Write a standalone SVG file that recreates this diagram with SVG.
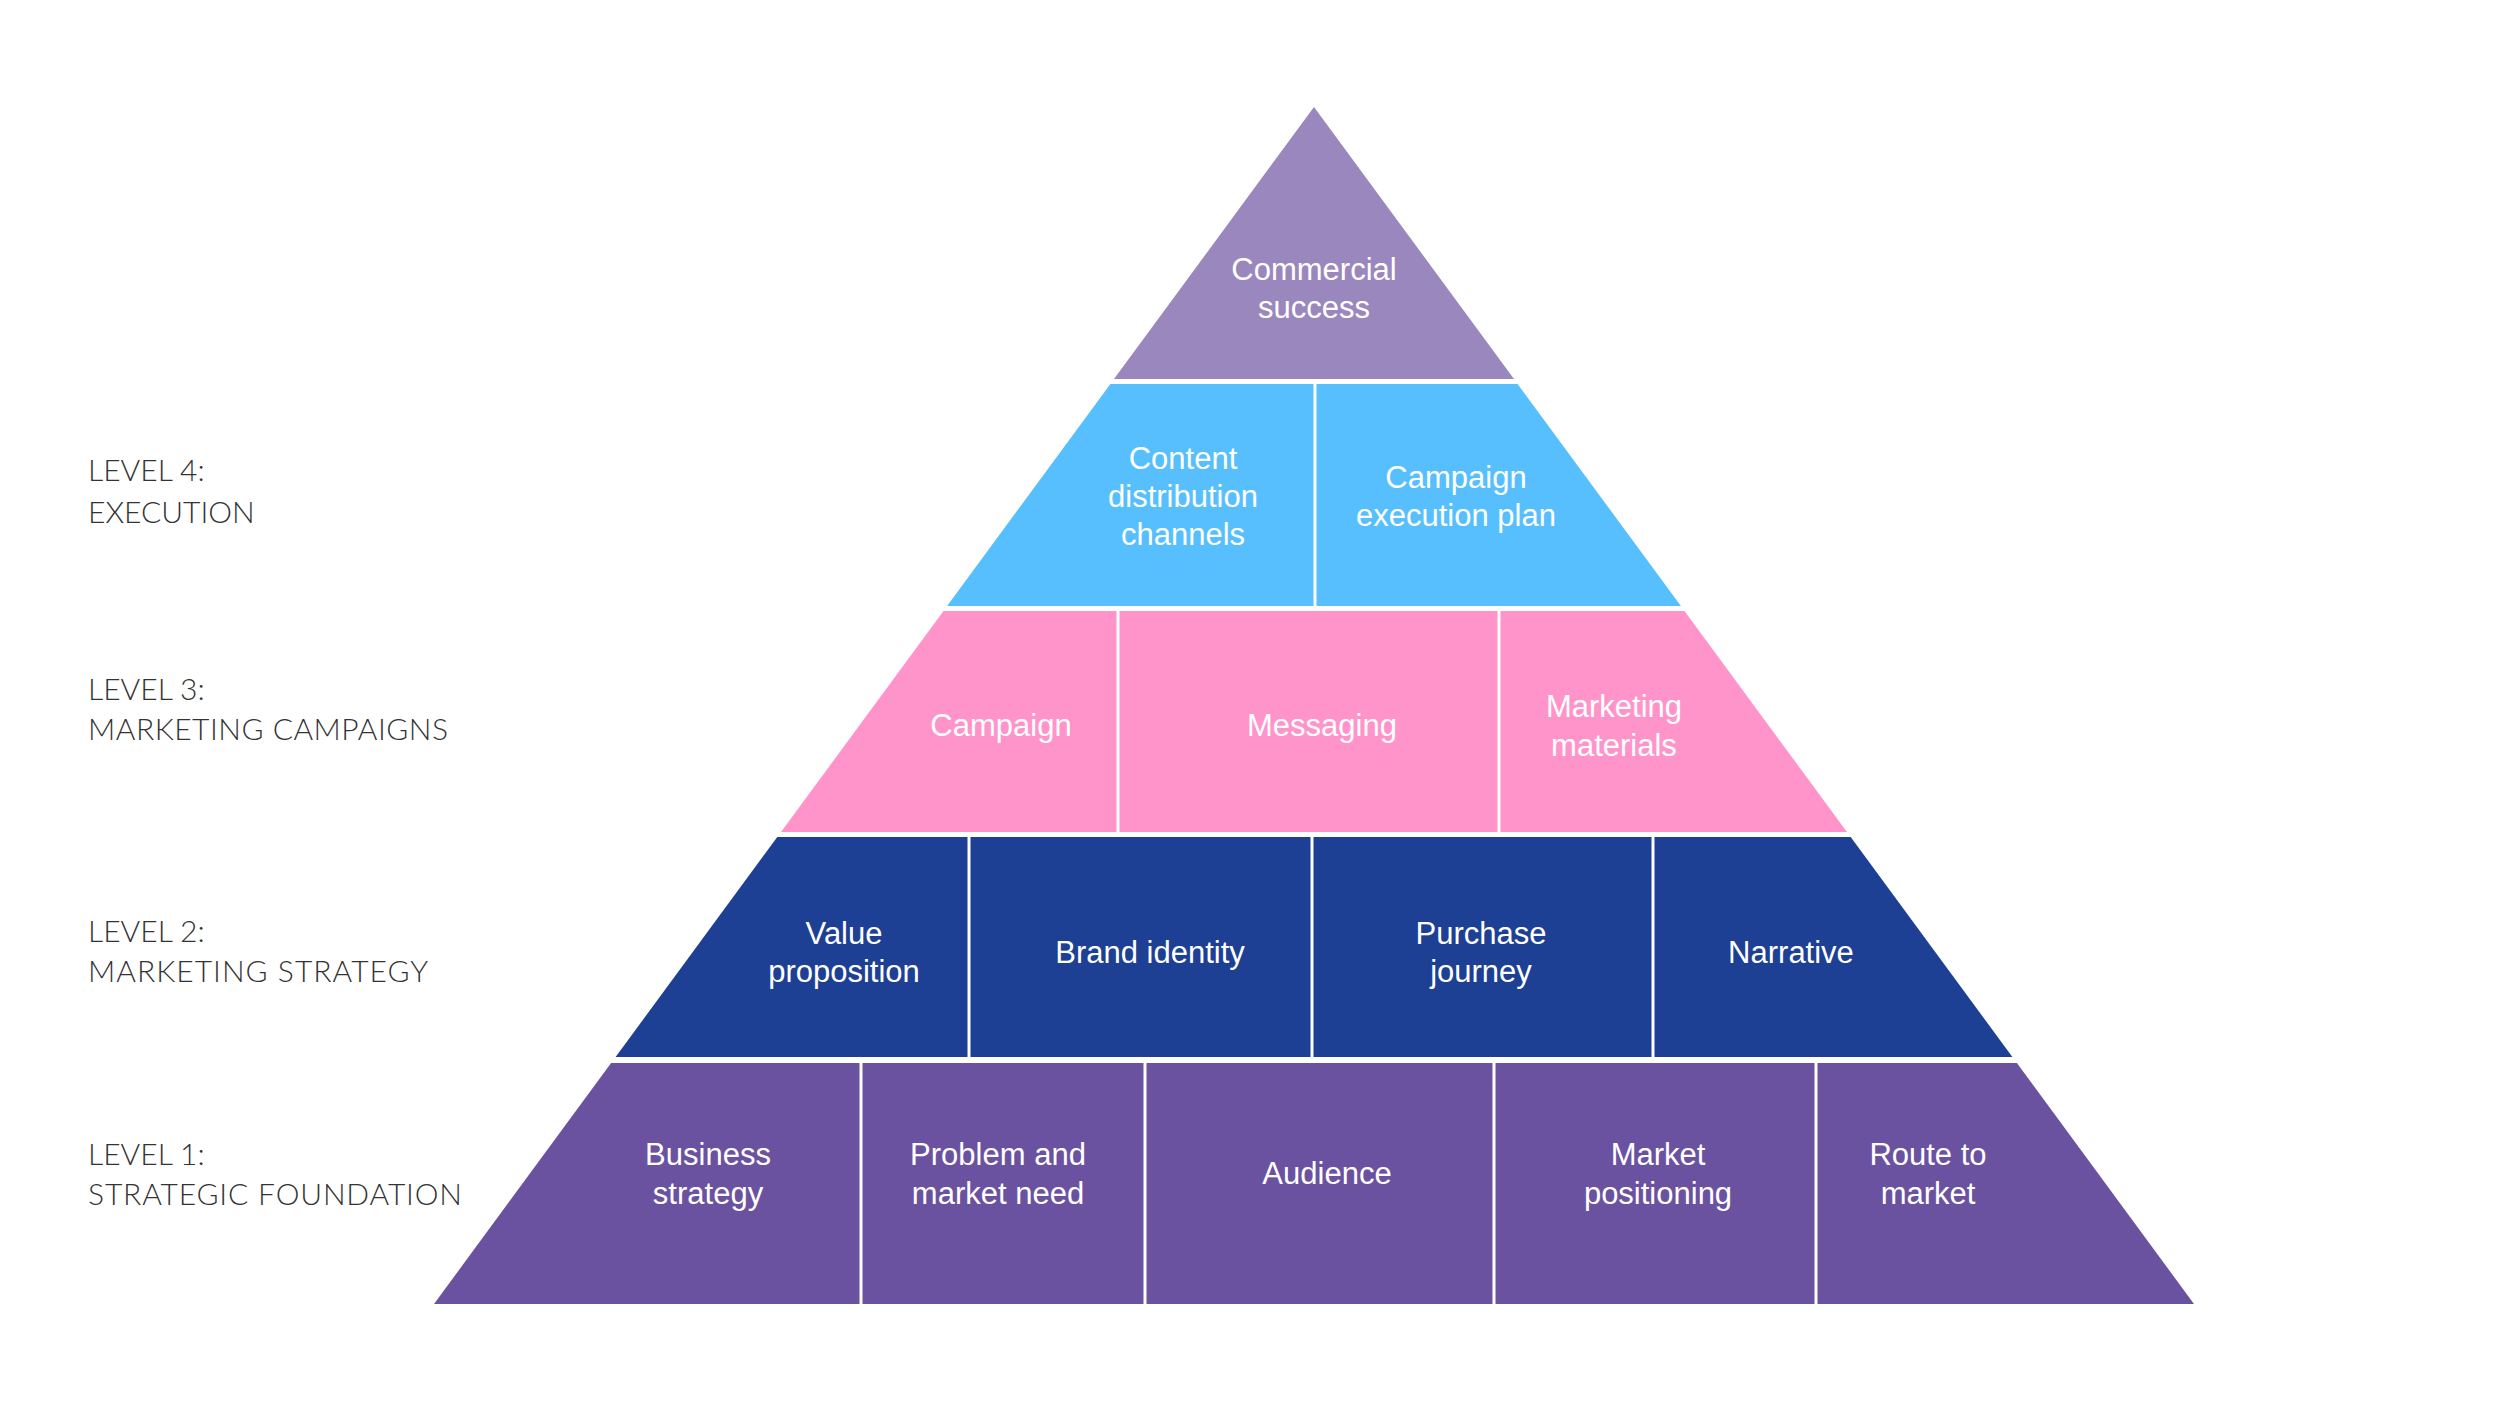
<svg xmlns="http://www.w3.org/2000/svg" width="2500" height="1406" viewBox="0 0 2500 1406">
<style>
.t{font-family:"Liberation Sans",Arial,sans-serif;font-size:31px;fill:#ffffff;text-anchor:middle}
.lv{font-family:Lato,"Open Sans",sans-serif;font-weight:300;font-size:30px;fill:#333333}
.c0{fill:#9A87BE}.c4{fill:#57BFFE}.c3{fill:#FF94CA}.c2{fill:#1D3F94}.c1{fill:#6A52A0}
</style>
<defs>
<clipPath id="b4"><polygon points="1110.4,384 1517.6,384 1680.9,606 947.1,606"/></clipPath>
<clipPath id="b3"><polygon points="943.5,611 1684.5,611 1847,832 781,832"/></clipPath>
<clipPath id="b2"><polygon points="777.3,837 1850.7,837 2012.4,1057 615.6,1057"/></clipPath>
<clipPath id="b1"><polygon points="611.1,1063 2016.9,1063 2194,1304 434,1304"/></clipPath>
</defs>
<rect width="2500" height="1406" fill="#ffffff"/>
<g id="labels">
<text class="lv" x="88" y="481">LEVEL 4:</text>
<text class="lv" x="88" y="523">EXECUTION</text>
<text class="lv" x="88" y="700">LEVEL 3:</text>
<text class="lv" x="88" y="740" textLength="360" lengthAdjust="spacing">MARKETING CAMPAIGNS</text>
<text class="lv" x="88" y="942">LEVEL 2:</text>
<text class="lv" x="88" y="982" textLength="340" lengthAdjust="spacing">MARKETING STRATEGY</text>
<text class="lv" x="88" y="1165">LEVEL 1:</text>
<text class="lv" x="88" y="1205" textLength="374" lengthAdjust="spacing">STRATEGIC FOUNDATION</text>
</g>
<g id="commercial-success">
<polygon class="c0" points="1314,107 1514,379 1114,379"/>
<text class="t" x="1314" y="280">Commercial</text>
<text class="t" x="1314" y="318">success</text>
</g>
<g id="content-distribution">
<rect class="c4" clip-path="url(#b4)" x="900" y="384" width="413.5" height="222"/>
<text class="t" x="1183" y="469">Content</text>
<text class="t" x="1183" y="507">distribution</text>
<text class="t" x="1183" y="545">channels</text>
</g>
<g id="campaign-execution-plan">
<rect class="c4" clip-path="url(#b4)" x="1316.5" y="384" width="400" height="222"/>
<text class="t" x="1456" y="488">Campaign</text>
<text class="t" x="1456" y="526">execution plan</text>
</g>
<g id="campaign">
<rect class="c3" clip-path="url(#b3)" x="750" y="611" width="366.5" height="221"/>
<text class="t" x="1001" y="736">Campaign</text>
</g>
<g id="messaging">
<rect class="c3" clip-path="url(#b3)" x="1119.5" y="611" width="378" height="221"/>
<text class="t" x="1322" y="736">Messaging</text>
</g>
<g id="marketing-materials">
<rect class="c3" clip-path="url(#b3)" x="1500.5" y="611" width="400" height="221"/>
<text class="t" x="1614" y="717">Marketing</text>
<text class="t" x="1614" y="756">materials</text>
</g>
<g id="value-proposition">
<rect class="c2" clip-path="url(#b2)" x="600" y="837" width="367.5" height="220"/>
<text class="t" x="844" y="944">Value</text>
<text class="t" x="844" y="982">proposition</text>
</g>
<g id="brand-identity">
<rect class="c2" clip-path="url(#b2)" x="970.5" y="837" width="340" height="220"/>
<text class="t" x="1150" y="963">Brand identity</text>
</g>
<g id="purchase-journey">
<rect class="c2" clip-path="url(#b2)" x="1313.5" y="837" width="338" height="220"/>
<text class="t" x="1481" y="944">Purchase</text>
<text class="t" x="1481" y="982">journey</text>
</g>
<g id="narrative">
<rect class="c2" clip-path="url(#b2)" x="1654.5" y="837" width="400" height="220"/>
<text class="t" x="1791" y="963">Narrative</text>
</g>
<g id="business-strategy">
<rect class="c1" clip-path="url(#b1)" x="420" y="1063" width="439.5" height="241"/>
<text class="t" x="708" y="1165">Business</text>
<text class="t" x="708" y="1204">strategy</text>
</g>
<g id="problem-market-need">
<rect class="c1" clip-path="url(#b1)" x="862.5" y="1063" width="281" height="241"/>
<text class="t" x="998" y="1165">Problem and</text>
<text class="t" x="998" y="1204">market need</text>
</g>
<g id="audience">
<rect class="c1" clip-path="url(#b1)" x="1146.5" y="1063" width="346" height="241"/>
<text class="t" x="1327" y="1184">Audience</text>
</g>
<g id="market-positioning">
<rect class="c1" clip-path="url(#b1)" x="1495.5" y="1063" width="319" height="241"/>
<text class="t" x="1658" y="1165">Market</text>
<text class="t" x="1658" y="1204">positioning</text>
</g>
<g id="route-to-market">
<rect class="c1" clip-path="url(#b1)" x="1817.5" y="1063" width="400" height="241"/>
<text class="t" x="1928" y="1165">Route to</text>
<text class="t" x="1928" y="1204">market</text>
</g>
<g id="connectors"></g>
</svg>
